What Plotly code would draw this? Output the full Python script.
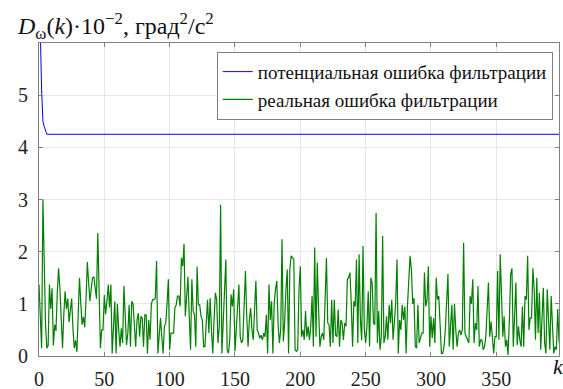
import plotly.graph_objects as go

k_values = list(range(400))

potential_error = [9.0, 6.2, 5.1, 4.5, 4.4, 4.3] + [4.25] * 394

real_error = [
    1.37, 0.8, 0.15, 3.0, 1.5, 0.6, 0.15, 0.2, 1.37, 0.9,
    1.3, 0.2, 0.6, 0.48, 1.22, 1.68, 1.3, 0.7, 0.15, 0.8,
    1.24, 0.9, 1.1, 0.65, 0.9, 1.1, 0.52, 0.15, 0.3, 0.08,
    0.8, 1.5, 1.0, 0.6, 0.75, 0.55, 1.1, 1.8, 1.4, 1.05,
    1.3, 1.5, 1.52, 1.3, 1.1, 2.36, 1.2, 0.15, 0.5, 0.5,
    1.17, 0.8, 1.05, 1.37, 0.93, 1.37, 0.05, 0.5, 1.05, 0.05,
    1.0, 0.5, 0.18, 0.53, 0.25, 1.34, 0.6, 0.21, 0.44, 0.98,
    0.18, 1.05, 1.0, 0.5, 0.18, 0.69, 0.82, 0.37, 0.76, 0.73,
    0.18, 0.79, 0.79, 0.05, 0.69, 0.31, 1.0, 1.08, 1.08, 1.11,
    1.82, 0.05, 0.4, 0.73, 0.37, 0.05, 0.57, 0.63, 1.0, 1.47,
    0.12, 0.44, 0.44, 0.44, 0.92, 0.98, 1.15, 1.15, 0.95, 1.88,
    1.72, 2.15, 0.76, 1.1, 1.52, 0.76, 0.12, 1.47, 0.86, 0.79,
    0.18, 1.71, 0.98, 0.98, 0.76, 0.69, 0.18, 0.18, 0.57, 1.08,
    0.44, 1.11, 0.5, 0.05, 0.7, 1.21, 1.08, 0.25, 0.57, 2.9,
    0.05, 0.6, 1.28, 1.85, 0.12, 0.05, 0.31, 1.18, 0.95, 1.28,
    0.09, 0.5, 0.95, 1.37, 0.37, 0.25, 0.31, 1.0, 1.63, 0.76,
    0.18, 0.69, 0.92, 0.5, 0.31, 0.9, 1.44, 0.5, 0.44, 0.34,
    0.4, 0.31, 0.44, 0.37, 0.79, 0.05, 1.37, 0.69, 1.05, 0.05,
    1.0, 1.28, 1.44, 0.6, 0.25, 0.5, 2.24, 0.28, 0.63, 1.28,
    1.66, 0.05, 1.66, 1.92, 1.88, 1.85, 0.12, 0.09, 0.12, 1.28,
    1.72, 0.37, 0.5, 0.31, 0.86, 0.37, 0.57, 0.31, 0.57, 1.15,
    0.18, 2.08, 0.37, 1.79, 0.89, 0.18, 0.37, 0.44, 0.31, 1.08,
    1.88, 0.63, 0.6, 0.18, 1.08, 0.25, 1.08, 0.4, 0.37, 0.89,
    0.18, 0.69, 0.63, 0.31, 0.63, 0.57, 1.47, 1.5, 1.6, 1.0,
    0.18, 1.05, 0.95, 1.85, 0.25, 1.95, 0.69, 0.3, 2.11, 0.5,
    0.25, 0.57, 1.24, 0.18, 1.5, 1.4, 0.63, 0.6, 2.74, 0.25,
    0.86, 0.12, 0.37, 2.3, 0.25, 0.37, 0.76, 0.31, 0.98, 0.63,
    1.08, 0.31, 0.69, 1.0, 1.85, 0.05, 0.69, 0.5, 0.98, 0.69,
    0.95, 0.05, 0.95, 1.5, 1.92, 1.66, 1.0, 1.11, 0.18, 0.15,
    0.98, 0.25, 0.37, 0.44, 0.44, 1.6, 0.95, 1.08, 1.72, 0.18,
    0.76, 0.34, 0.73, 0.25, 1.5, 1.08, 1.15, 0.5, 0.05, 0.05,
    0.18, 0.5, 1.08, 1.57, 0.18, 0.63, 0.98, 0.12, 1.0, 0.5,
    0.18, 0.44, 0.5, 0.4, 0.5, 2.17, 0.44, 0.37, 0.31, 0.25,
    1.15, 1.0, 1.47, 0.25, 0.63, 0.5, 1.34, 0.18, 0.31, 0.31,
    0.12, 0.18, 0.37, 0.9, 1.41, 0.37, 0.66, 0.37, 0.05, 0.37,
    0.37, 1.63, 0.31, 1.95, 1.21, 0.37, 0.76, 0.18, 0.31, 0.02,
    0.69, 1.57, 1.68, 0.18, 0.76, 1.41, 0.21, 0.57, 0.31, 0.18,
    0.95, 0.18, 1.15, 1.08, 1.92, 0.5, 0.73, 0.73, 1.68, 1.28,
    0.31, 1.5, 0.44, 1.21, 0.12, 0.66, 1.31, 0.25, 0.05, 1.28,
    0.82, 0.12, 1.15, 0.57, 0.05, 0.18, 0.12, 0.9, 0.3, 0.12,
]

x_ticks = [0, 50, 100, 150, 200, 250, 300, 350]
y_ticks = [0, 1, 2, 3, 4, 5]

series_names = ["потенциальная ошибка фильтрации", "реальная ошибка фильтрации"]
title_text = "<i>D</i><sub>ω</sub>(<i>k</i>)·10<sup>−2</sup>, град<sup>2</sup>/с<sup>2</sup>"

FONT = "Liberation Serif"

fig = go.Figure()
fig.add_trace(go.Scatter(x=k_values, y=potential_error, mode="lines",
                         name=series_names[0], line=dict(color="#0000ff", width=1)))
fig.add_trace(go.Scatter(x=k_values, y=real_error, mode="lines",
                         name=series_names[1], line=dict(color="#008000", width=1.2)))

axis_common = dict(showline=True, linecolor="#808080", linewidth=1, mirror="ticks",
                   ticks="inside", ticklen=4, tickcolor="#808080",
                   showgrid=True, gridcolor="#e6e6e6", gridwidth=1,
                   zeroline=False, automargin=False,
                   tickfont=dict(family=FONT, size=20, color="#222"))

fig.update_xaxes(range=[0, 398], tickvals=x_ticks, ticklabelstandoff=5, **axis_common)
fig.update_yaxes(range=[0, 6], tickvals=y_ticks, ticklabelstandoff=6, **axis_common)

fig.update_layout(
    template="none",
    width=563, height=389,
    margin=dict(l=39, r=4, t=43, b=33),
    paper_bgcolor="white", plot_bgcolor="white",
    font=dict(family=FONT, size=18, color="#111"),
    showlegend=True,
    legend=dict(x=0.988, y=0.972, xanchor="right", yanchor="top",
                bgcolor="white", bordercolor="#808080", borderwidth=1,
                font=dict(family=FONT, size=19, color="#111"),
                tracegroupgap=0, itemwidth=30),
    annotations=[
        dict(text=title_text, xref="paper", yref="paper", x=-0.047, y=1.0,
             xanchor="left", yanchor="bottom", yshift=-2, showarrow=False,
             font=dict(family=FONT, size=24, color="#111")),
        dict(text="<i>k</i>", xref="paper", yref="paper", x=1.0, y=0.0,
             xanchor="left", yanchor="top", xshift=-8, yshift=4, showarrow=False,
             font=dict(family=FONT, size=22, color="#111")),
    ],
)

fig.write_html("out.html", config={"displayModeBar": False},
               post_script="document.body.style.margin='0';document.body.style.overflow='hidden';")
